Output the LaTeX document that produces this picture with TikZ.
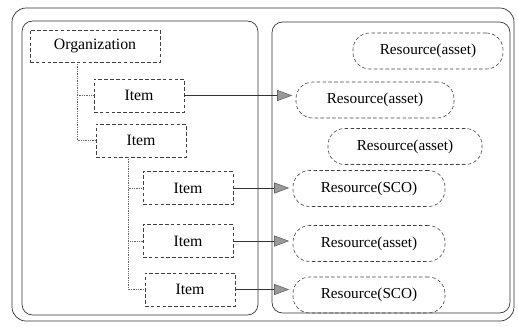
\documentclass[tikz,border=0pt]{standalone}
\usepackage{fontspec}
\setmainfont{Liberation Serif}
\usetikzlibrary{arrows.meta}

\tikzset{
  panel/.style={draw=black!80, line width=0.6pt, rounded corners=9pt},
  itembox/.style={draw=black!75, densely dashed, line width=0.5pt, minimum width=2.7cm, minimum height=0.99cm, inner sep=0pt, font=\fontsize{13.5}{15}\selectfont},
  resbox/.style={draw=black!75, densely dashed, line width=0.5pt, rounded corners=0.5cm, minimum width=4.56cm, minimum height=1.08cm, inner sep=0pt, font=\fontsize{13}{15}\selectfont},
  treeline/.style={draw=black!60, densely dotted, line width=0.5pt},
  link/.style={draw=black!80, line width=0.5pt, -{Triangle[length=0.45cm, width=0.33cm, fill=black!40, color=black!60]}, shorten >=3pt}
}

\begin{document}
\begin{tikzpicture}[x=0.03cm, y=-0.03cm]
        \useasboundingbox (0,0) rectangle (518,326);
        % frames
        \draw[panel, rounded corners=12pt] (12,8) rectangle (514,321);
        \draw[panel] (22,21) rectangle (258,315);
        \draw[panel] (272,22) rectangle (510,313);
        % organization tree
        \node[itembox, minimum width=3.9cm, minimum height=0.96cm] (org) at (95,46) {Organization};
        \node[itembox] (item1) at (139,95.5) {Item};
        \node[itembox] (item2) at (141,140.5) {Item};
        \node[itembox] (item3) at (188,188) {Item};
        \node[itembox] (item4) at (188,241) {Item};
        \node[itembox] (item5) at (190,289.5) {Item};
        \coordinate (t1) at (77,62);
        \coordinate (t2) at (128,157);
        \draw[treeline] (t1) |- (item1.west);
        \draw[treeline] (t1) |- (item2.west);
        \draw[treeline] (t2) |- (item3.west);
        \draw[treeline] (t2) |- (item4.west);
        \draw[treeline] (t2) |- (item5.west);
        % resources
        \node[resbox, minimum width=4.5cm] (r0) at (428,51) {Resource(asset)};
        \node[resbox, minimum width=4.74cm] (r1) at (375,100) {Resource(asset)};
        \node[resbox, minimum width=4.62cm] (r2) at (405,146.5) {Resource(asset)};
        \node[resbox] (r3) at (369,188.5) {Resource(SCO)};
        \node[resbox] (r4) at (369,243.5) {Resource(asset)};
        \node[resbox] (r5) at (369,295) {Resource(SCO)};
        % references
        \draw[link] (item1.east) -- (item1.east -| r1.west);
        \draw[link] (item3.east) -- (item3.east -| r3.west);
        \draw[link] (item4.east) -- (item4.east -| r4.west);
        \draw[link] (item5.east) -- (item5.east -| r5.west);
      \end{tikzpicture}
\end{document}
